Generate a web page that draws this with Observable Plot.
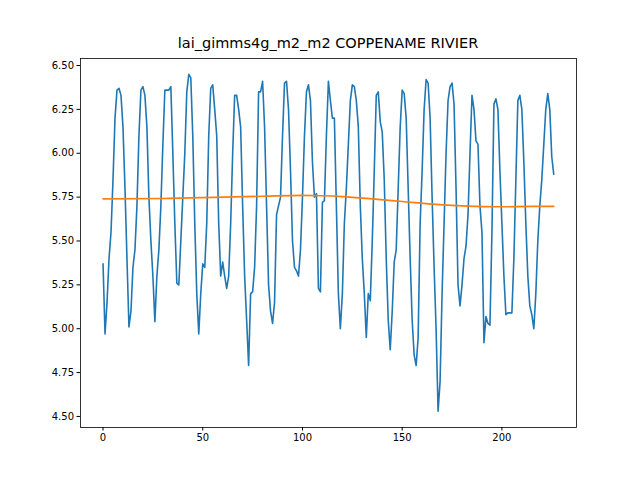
<!DOCTYPE html>
<html><head><meta charset="utf-8">
<script src="https://cdn.jsdelivr.net/npm/d3@7"></script>
<script src="https://cdn.jsdelivr.net/npm/@observablehq/plot@0.6"></script>
<style>
body{margin:0;background:#fff;font-family:"DejaVu Sans",sans-serif;}
#title{height:48px;width:640px;box-sizing:border-box;padding-left:80px;padding-right:64px;text-align:center;font-size:14.5px;line-height:14px;padding-top:36px;}
</style></head><body>
<div id="title">lai_gimms4g_m2_m2 COPPENAME RIVIER</div>
<div id="chart"></div>
<script>
const lai = [5.37,4.97,5.15,5.4,5.55,5.85,6.2,6.36,6.37,6.33,6.15,5.8,5.4,5.01,5.1,5.35,5.45,5.7,6.1,6.36,6.38,6.33,6.15,5.75,5.5,5.3,5.04,5.3,5.45,5.7,6.05,6.36,6.36,6.36,6.38,6.0,5.6,5.26,5.25,5.5,5.75,6.0,6.35,6.45,6.43,6.1,5.6,5.2,4.97,5.2,5.37,5.35,5.6,6.1,6.37,6.39,6.25,6.1,5.6,5.3,5.38,5.3,5.23,5.3,5.6,6.0,6.33,6.33,6.25,6.15,5.7,5.3,5.05,4.79,5.2,5.21,5.35,5.7,6.35,6.35,6.41,6.15,5.7,5.25,5.1,5.03,5.15,5.65,5.7,5.75,6.1,6.4,6.41,6.25,5.9,5.5,5.35,5.33,5.3,5.45,5.75,6.1,6.35,6.39,6.3,5.95,5.75,5.77,5.23,5.21,5.72,5.73,6.1,6.41,6.3,6.2,6.2,5.7,5.2,5.0,5.2,5.6,5.8,6.05,6.3,6.39,6.38,6.3,6.15,5.7,5.4,5.2,4.95,5.2,5.16,5.5,5.9,6.33,6.35,6.18,6.12,5.85,5.4,5.05,4.88,5.1,5.38,5.45,5.8,6.15,6.36,6.34,6.2,5.8,5.4,5.05,4.85,4.79,4.95,5.6,5.9,6.25,6.42,6.4,6.2,5.75,5.35,5.0,4.53,4.7,5.2,5.6,6.0,6.3,6.38,6.4,6.28,5.8,5.25,5.13,5.25,5.4,5.47,5.65,6.0,6.33,6.25,6.07,6.05,5.7,5.55,4.92,5.07,5.03,5.02,5.55,6.28,6.31,6.25,5.9,5.6,5.3,5.08,5.09,5.09,5.09,5.4,5.85,6.3,6.33,6.25,5.95,5.6,5.3,5.13,5.08,5.0,5.2,5.5,5.7,5.85,6.05,6.25,6.34,6.25,5.98,5.88];
const trendX = [0,30,60,80,100,110,120,135,150,165,180,200,215,226];
const trendY = [5.74,5.742,5.75,5.755,5.76,5.758,5.753,5.74,5.725,5.71,5.70,5.695,5.697,5.697];
const series = lai.map((v,i)=>({i,v}));
const trend = trendX.map((x,k)=>({x,y:trendY[k]}));
const xTicks=[0,50,100,150,200];
const yTicks=[4.5,4.75,5,5.25,5.5,5.75,6,6.25,6.5];
const chart = Plot.plot({
  width:640,height:432,marginLeft:80,marginRight:64,marginTop:10,marginBottom:53,
  style:{fontFamily:"DejaVu Sans, sans-serif",fontSize:"10px",color:"#000"},
  x:{domain:[-11.3,237.4],ticks:xTicks,tickSize:3.5,tickPadding:3,label:null,tickFormat:d3.format("d")},
  y:{domain:[4.437,6.54],ticks:yTicks,tickSize:3.5,tickPadding:3,label:null,tickFormat:d3.format(".2f")},
  marks:[
    Plot.line(series,{x:"i",y:"v",stroke:"#1f77b4",strokeWidth:1.6}),
    Plot.line(trend,{x:"x",y:"y",stroke:"#ff7f0e",strokeWidth:1.6,curve:"monotone-x"}),
    Plot.frame({stroke:"#000",strokeWidth:0.8})
  ]
});
chart.querySelectorAll("text").forEach(t=>t.setAttribute("font-size","10"));
document.getElementById("chart").appendChild(chart);
</script></body></html>
